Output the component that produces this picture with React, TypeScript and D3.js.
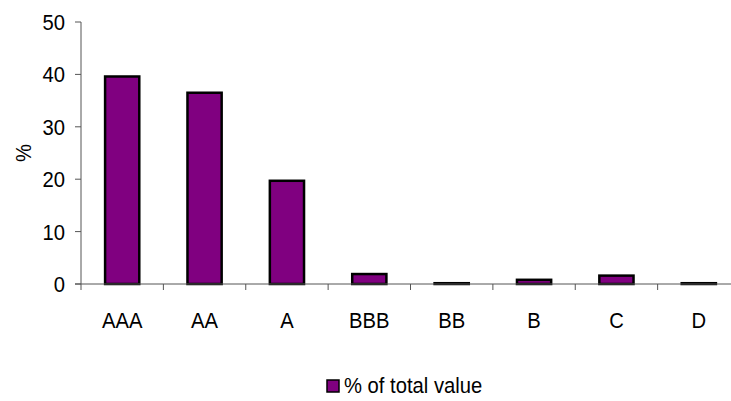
import React from "react";
import * as d3 from "d3";

const categories = ["AAA", "AA", "A", "BBB", "BB", "B", "C", "D"];
const values = [39.6, 36.5, 19.7, 1.9, 0.15, 0.8, 1.6, 0.15];
const yTicks = [0, 10, 20, 30, 40, 50];
const seriesName = "% of total value";
const yTitle = "%";

const W = 731;
const H = 401;
const FONT = "'Liberation Sans', Arial, sans-serif";
const FS = 22;
const SX = 0.92;

function T(props: { x: number; y: number; anchor?: string; rotate?: number; children: React.ReactNode; dy?: string }) {
  const { x, y, anchor = "start", rotate = 0, children, dy } = props;
  return (
    <g transform={`translate(${x},${y}) rotate(${rotate}) scale(${SX},1)`}>
      <text x={0} y={0} dy={dy} textAnchor={anchor} fontFamily={FONT} fontSize={FS} fill="#000">
        {children}
      </text>
    </g>
  );
}

export default function App() {
  const x = d3.scaleBand<string>().domain(categories).range([81, 740]).padding(0);
  const y = d3.scaleLinear().domain([0, 50]).range([284, 22]);
  const barW = x.bandwidth() * 0.415;
  const axisColor = "#555";

  return (
    <svg width={W} height={H} style={{ position: "absolute", left: 0, top: 0, background: "#fff" }}>
      {categories.map((c, i) => {
        const cx = (x(c) as number) + x.bandwidth() / 2;
        const top = y(values[i]);
        return (
          <rect
            key={c}
            x={cx - barW / 2}
            y={top}
            width={barW}
            height={Math.max(0.5, y(0) - top)}
            fill="#800080"
            stroke="#000"
            strokeWidth={2.5}
          />
        );
      })}
      <line x1={81} x2={81} y1={y(50)} y2={y(0) + 6} stroke={axisColor} strokeWidth={1} />
      {yTicks.map((t) => (
        <g key={t}>
          <line x1={75} x2={81} y1={y(t)} y2={y(t)} stroke={axisColor} strokeWidth={1} />
          <T x={65} y={y(t)} dy="0.36em" anchor="end">
            {t}
          </T>
        </g>
      ))}
      <line x1={75} x2={740} y1={y(0)} y2={y(0)} stroke={axisColor} strokeWidth={1} />
      {categories.map((c, i) =>
        i === 0 ? null : (
          <line key={"t" + c} x1={x(c) as number} x2={x(c) as number} y1={y(0)} y2={y(0) + 6} stroke={axisColor} strokeWidth={1} />
        )
      )}
      {categories.map((c) => (
        <T key={"l" + c} x={(x(c) as number) + x.bandwidth() / 2} y={328} anchor="middle">
          {c}
        </T>
      ))}
      <T x={31} y={(y(0) + y(50)) / 2} rotate={-90} anchor="middle">
        {yTitle}
      </T>
      <rect x={327} y={380} width={12} height={12} fill="#800080" stroke="#000" strokeWidth={1.5} />
      <T x={344} y={393}>{seriesName}</T>
    </svg>
  );
}
